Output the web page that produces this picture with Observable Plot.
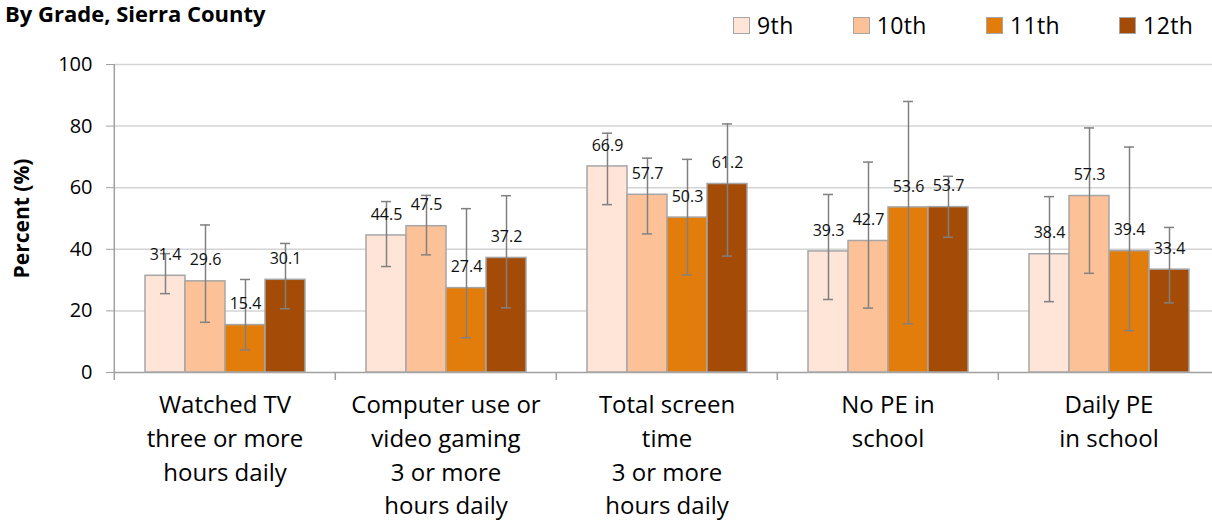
<!DOCTYPE html>
<html><head><meta charset="utf-8">
<script src="https://cdn.jsdelivr.net/npm/d3@7"></script>
<script src="https://cdn.jsdelivr.net/npm/@observablehq/plot@0.6"></script>
<style>
html,body{margin:0;padding:0;background:#fff;overflow:hidden}
body{width:1212px;height:523px;font-family:"Open Sans",sans-serif;color:#000}
#header{position:relative;width:1212px;height:50px}
#title{position:absolute;left:5px;top:1px;font-weight:700;font-size:22px;line-height:24px;white-space:nowrap}
#legend{position:absolute;left:733px;top:9px;display:flex;gap:59px;font-size:23px;line-height:32px;letter-spacing:0.4px}
.item{display:flex;align-items:center}
.sw{width:15px;height:15px;border:1px solid #A6A6A6;margin-right:7px}
#chart svg{display:block;overflow:visible}
#chart g[aria-label="y-axis label"] text{font-weight:700;font-size:21px}
</style></head><body>
<div id="header"><div id="title">By Grade, Sierra County</div><div id="legend"></div></div>
<div id="chart"></div>
<script>
const categories = [
  "Watched TV\nthree or more\nhours daily",
  "Computer use or\nvideo gaming\n3 or more\nhours daily",
  "Total screen\ntime\n3 or more\nhours daily",
  "No PE in\nschool",
  "Daily PE\nin school"
];
const grades = ["9th", "10th", "11th", "12th"];
const colors = ["#FFE5D8", "#FDC197", "#E27D0C", "#A34B07"];

const values9  = [31.4, 44.5, 66.9, 39.3, 38.4];
const values10 = [29.6, 47.5, 57.7, 42.7, 57.3];
const values11 = [15.4, 27.4, 50.3, 53.6, 39.4];
const values12 = [30.1, 37.2, 61.2, 53.7, 33.4];

const low9   = [25.6, 34.4, 54.5, 23.7, 23.0];
const high9  = [38.6, 55.5, 77.7, 57.8, 57.1];
const low10  = [16.3, 38.2, 45.0, 20.9, 32.2];
const high10 = [47.9, 57.5, 69.6, 68.3, 79.4];
const low11  = [7.3, 11.3, 31.7, 15.8, 13.6];
const high11 = [30.2, 53.2, 69.2, 88.0, 73.2];
const low12  = [20.7, 21.0, 37.8, 43.9, 22.6];
const high12 = [41.9, 57.4, 80.7, 63.7, 47.1];

const yTicks = [0, 20, 40, 60, 80, 100];

const values = [values9, values10, values11, values12];
const lows = [low9, low10, low11, low12];
const highs = [high9, high10, high11, high12];
const rows = [];
grades.forEach((g, gi) => categories.forEach((c, ci) => rows.push({
  category: c, grade: g, value: values[gi][ci], low: lows[gi][ci], high: highs[gi][ci]
})));

// legend
const legend = document.getElementById("legend");
grades.forEach((g, i) => {
  const it = document.createElement("div"); it.className = "item";
  const sw = document.createElement("div"); sw.className = "sw"; sw.style.background = colors[i];
  const t = document.createElement("span"); t.textContent = g;
  it.appendChild(sw); it.appendChild(t); legend.appendChild(it);
});

const W = 1212, ML = 113, MR = -8;
const fw = (W - ML - MR) / categories.length;
const errColor = "#808080";

const chart = Plot.plot({
  width: W, height: 473,
  marginLeft: ML, marginRight: MR, marginTop: 14, marginBottom: 151,
  style: {fontFamily: "Open Sans, sans-serif", fontSize: "16px", color: "#000", background: "white", overflow: "visible"},
  fx: {domain: categories, padding: 0, label: null},
  x: {domain: grades, paddingInner: 0, paddingOuter: 0.75, axis: null},
  y: {domain: [0, 100], label: null},
  color: {domain: grades, range: colors},
  marks: [
    Plot.gridY(yTicks.slice(1), {stroke: "#D4D4D4", strokeOpacity: 1, strokeWidth: 1.5}),
    Plot.ruleY([0], {stroke: "#A0A0A0", strokeWidth: 1.5}),
    Plot.barY(rows, {fx: "category", x: "grade", y: "value", fill: "grade", stroke: "#A6A6A6", strokeWidth: 1.5}),
    Plot.ruleX(rows, {fx: "category", x: "grade", y1: "low", y2: "high", stroke: errColor, strokeWidth: 1.5}),
    Plot.tickY(rows, {fx: "category", x: "grade", y: "low", stroke: errColor, strokeWidth: 1.5, insetLeft: 15, insetRight: 15}),
    Plot.tickY(rows, {fx: "category", x: "grade", y: "high", stroke: errColor, strokeWidth: 1.5, insetLeft: 15, insetRight: 15}),
    Plot.text(rows, {fx: "category", x: "grade", y: "value", text: d => d.value.toFixed(1), dy: -21, fontSize: 16, fill: "#111"}),
    // y axis line (first facet only)
    Plot.ruleX([categories[0]], {fx: d => d, x: null, dx: -fw / 2, stroke: "#A0A0A0", strokeWidth: 1.5}),
    // category boundary ticks
    Plot.ruleX(categories, {fx: d => d, x: null, y1: () => 0, y2: () => 0, insetBottom: -8, dx: -fw / 2, stroke: "#A0A0A0", strokeWidth: 1.5}),
    Plot.axisY({ticks: yTicks, tickSize: 8, tickPadding: 14, fontSize: 20, stroke: "#A0A0A0",
      label: "Percent (%)", labelAnchor: "center", labelOffset: 100, labelArrow: "none"}),
    Plot.axisFx({anchor: "bottom", tickSize: 0, tickPadding: 17, fontSize: 24, lineHeight: 1.4, label: null})
  ]
});
document.getElementById("chart").appendChild(chart);
</script>
</body></html>
